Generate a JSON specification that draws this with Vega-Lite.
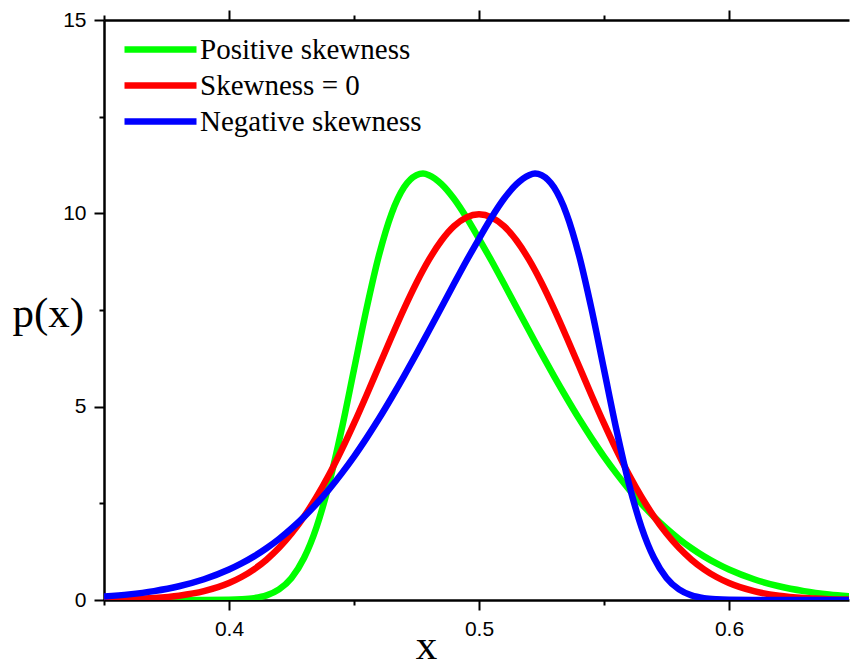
{
  "$schema": "https://vega.github.io/schema/vega-lite/v6.json",
  "autosize": {"type": "none"},
  "padding": {"left": 104, "top": 20, "right": 1, "bottom": 61},
  "width": 745,
  "height": 580,
  "background": "white",
  "config": {
    "view": {"stroke": null},
    "axis": {
      "domainColor": "black", "domainWidth": 2.5, "tickColor": "black", "tickWidth": 2,
      "grid": false, "labelFont": "Liberation Sans", "labelFontSize": 21, "labelColor": "black",
      "titleColor": "black", "titleFont": "Liberation Serif", "titleFontWeight": "normal", "titleFontSize": 43
    }
  },
  "data": {"values": [
    {"x":0.35,"Positive skewness":0,"Skewness = 0":0.0088,"Negative skewness":0.089},
    {"x":0.36,"Positive skewness":0,"Skewness = 0":0.0218,"Negative skewness":0.145},
    {"x":0.37,"Positive skewness":0,"Skewness = 0":0.0507,"Negative skewness":0.230},
    {"x":0.38,"Positive skewness":0,"Skewness = 0":0.1108,"Negative skewness":0.355},
    {"x":0.39,"Positive skewness":0.0004,"Skewness = 0":0.2273,"Negative skewness":0.536},
    {"x":0.40,"Positive skewness":0.0056,"Skewness = 0":0.4382,"Negative skewness":0.787},
    {"x":0.405,"Positive skewness":0.017,"Skewness = 0":0.5942,"Negative skewness":0.945},
    {"x":0.41,"Positive skewness":0.0475,"Skewness = 0":0.7934,"Negative skewness":1.128},
    {"x":0.415,"Positive skewness":0.1197,"Skewness = 0":1.0431,"Negative skewness":1.338},
    {"x":0.42,"Positive skewness":0.2745,"Skewness = 0":1.3498,"Negative skewness":1.577},
    {"x":0.425,"Positive skewness":0.5711,"Skewness = 0":1.7197,"Negative skewness":1.848},
    {"x":0.43,"Positive skewness":1.0853,"Skewness = 0":2.157,"Negative skewness":2.151},
    {"x":0.435,"Positive skewness":1.8834,"Skewness = 0":2.6637,"Negative skewness":2.488},
    {"x":0.44,"Positive skewness":2.998,"Skewness = 0":3.2379,"Negative skewness":2.861},
    {"x":0.445,"Positive skewness":4.395,"Skewness = 0":3.8754,"Negative skewness":3.269},
    {"x":0.45,"Positive skewness":5.962,"Skewness = 0":4.5662,"Negative skewness":3.709},
    {"x":0.455,"Positive skewness":7.528,"Skewness = 0":5.297,"Negative skewness":4.187},
    {"x":0.46,"Positive skewness":8.918,"Skewness = 0":6.0493,"Negative skewness":4.693},
    {"x":0.465,"Positive skewness":9.988,"Skewness = 0":6.8014,"Negative skewness":5.231},
    {"x":0.47,"Positive skewness":10.672,"Skewness = 0":7.5284,"Negative skewness":5.791},
    {"x":0.475,"Positive skewness":10.987,"Skewness = 0":8.204,"Negative skewness":6.373},
    {"x":0.4776,"Positive skewness":11.03,"Skewness = 0":8.527,"Negative skewness":6.681},
    {"x":0.48,"Positive skewness":10.988,"Skewness = 0":8.8017,"Negative skewness":6.969},
    {"x":0.485,"Positive skewness":10.756,"Skewness = 0":9.2964,"Negative skewness":7.573},
    {"x":0.49,"Positive skewness":10.377,"Skewness = 0":9.6667,"Negative skewness":8.177},
    {"x":0.495,"Positive skewness":9.891,"Skewness = 0":9.896,"Negative skewness":8.773},
    {"x":0.50,"Positive skewness":9.342,"Skewness = 0":9.9736,"Negative skewness":9.342},
    {"x":0.505,"Positive skewness":8.773,"Skewness = 0":9.896,"Negative skewness":9.891},
    {"x":0.51,"Positive skewness":8.177,"Skewness = 0":9.6667,"Negative skewness":10.377},
    {"x":0.515,"Positive skewness":7.573,"Skewness = 0":9.2964,"Negative skewness":10.756},
    {"x":0.52,"Positive skewness":6.969,"Skewness = 0":8.8017,"Negative skewness":10.988},
    {"x":0.5224,"Positive skewness":6.681,"Skewness = 0":8.527,"Negative skewness":11.03},
    {"x":0.525,"Positive skewness":6.373,"Skewness = 0":8.204,"Negative skewness":10.987},
    {"x":0.53,"Positive skewness":5.791,"Skewness = 0":7.5284,"Negative skewness":10.672},
    {"x":0.535,"Positive skewness":5.231,"Skewness = 0":6.8014,"Negative skewness":9.988},
    {"x":0.54,"Positive skewness":4.693,"Skewness = 0":6.0493,"Negative skewness":8.918},
    {"x":0.545,"Positive skewness":4.187,"Skewness = 0":5.297,"Negative skewness":7.528},
    {"x":0.55,"Positive skewness":3.709,"Skewness = 0":4.5662,"Negative skewness":5.962},
    {"x":0.555,"Positive skewness":3.269,"Skewness = 0":3.8754,"Negative skewness":4.395},
    {"x":0.56,"Positive skewness":2.861,"Skewness = 0":3.2379,"Negative skewness":2.998},
    {"x":0.565,"Positive skewness":2.488,"Skewness = 0":2.6637,"Negative skewness":1.8834},
    {"x":0.57,"Positive skewness":2.151,"Skewness = 0":2.157,"Negative skewness":1.0853},
    {"x":0.575,"Positive skewness":1.848,"Skewness = 0":1.7197,"Negative skewness":0.5711},
    {"x":0.58,"Positive skewness":1.577,"Skewness = 0":1.3498,"Negative skewness":0.2745},
    {"x":0.585,"Positive skewness":1.338,"Skewness = 0":1.0431,"Negative skewness":0.1197},
    {"x":0.59,"Positive skewness":1.128,"Skewness = 0":0.7934,"Negative skewness":0.0475},
    {"x":0.595,"Positive skewness":0.945,"Skewness = 0":0.5942,"Negative skewness":0.017},
    {"x":0.60,"Positive skewness":0.787,"Skewness = 0":0.4382,"Negative skewness":0.0056},
    {"x":0.61,"Positive skewness":0.536,"Skewness = 0":0.2273,"Negative skewness":0.0004},
    {"x":0.62,"Positive skewness":0.355,"Skewness = 0":0.1108,"Negative skewness":0},
    {"x":0.63,"Positive skewness":0.230,"Skewness = 0":0.0507,"Negative skewness":0},
    {"x":0.64,"Positive skewness":0.145,"Skewness = 0":0.0218,"Negative skewness":0},
    {"x":0.65,"Positive skewness":0.089,"Skewness = 0":0.0088,"Negative skewness":0}
  ]},
  "transform": [
    {"fold": ["Positive skewness", "Skewness = 0", "Negative skewness"], "as": ["series", "y"]}
  ],
  "layer": [
    {
      "mark": {"type": "line", "strokeWidth": 6.5, "interpolate": "monotone", "clip": true},
      "encoding": {
        "x": {"field": "x", "type": "quantitative",
          "scale": {"domain": [0.35, 0.648], "nice": false, "zero": false},
          "axis": {
            "orient": "bottom",
            "values": [0.35, 0.4, 0.45, 0.5, 0.55, 0.6],
            "labelExpr": "abs(datum.value*10 - round(datum.value*10)) < 0.001 ? format(datum.value, '.1f') : ''",
            "tickSize": 10,
            "tickDash": {"condition": {"test": "abs(datum.value*10 - round(datum.value*10)) < 0.001", "value": [10, 0]}, "value": [5, 10]},
            "labelFontSize": 21,
            "labelPadding": 8,
            "title": "x", "titleX": 322, "titleY": 58, "titleAlign": "center", "titleBaseline": "alphabetic"
          }
        },
        "y": {"field": "y", "type": "quantitative",
          "scale": {"domain": [0, 15], "nice": false},
          "axis": {
            "orient": "left",
            "values": [0, 2.5, 5, 7.5, 10, 12.5, 15],
            "labelExpr": "datum.value % 5 == 0 ? datum.label : ''",
            "tickSize": 10,
            "tickDash": {"condition": {"test": "datum.value % 5 == 0", "value": [10, 0]}, "value": [5, 10]},
            "labelFontSize": 21,
            "labelPadding": 8,
            "title": "p(x)", "titleAngle": 0, "titleX": -92, "titleY": 306, "titleAlign": "left", "titleBaseline": "alphabetic"
          }
        },
        "color": {"field": "series", "type": "nominal",
          "scale": {"domain": ["Positive skewness", "Skewness = 0", "Negative skewness"], "range": ["#00ff00", "#ff0000", "#0000ff"]},
          "legend": {
            "orient": "none", "legendX": 17, "legendY": 15, "title": null,
            "labelFont": "Liberation Serif", "labelFontSize": 29, "labelColor": "black", "labelLimit": 500,
            "symbolType": "stroke", "symbolSize": 5184, "symbolStrokeWidth": 6.5,
            "labelOffset": 0, "rowPadding": 6, "clipHeight": 29, "padding": 0
          }
        }
      }
    },
    {
      "mark": {"type": "point", "opacity": 0},
      "encoding": {
        "x": {"field": "x", "type": "quantitative",
          "axis": {
            "orient": "top",
            "values": [0.35, 0.4, 0.45, 0.5, 0.55, 0.6],
            "labels": false, "title": null,
            "tickSize": 10,
            "tickDash": {"condition": {"test": "abs(datum.value*10 - round(datum.value*10)) < 0.001", "value": [10, 0]}, "value": [5, 10]}
          }
        }
      }
    }
  ],
  "resolve": {"axis": {"x": "independent"}}
}
